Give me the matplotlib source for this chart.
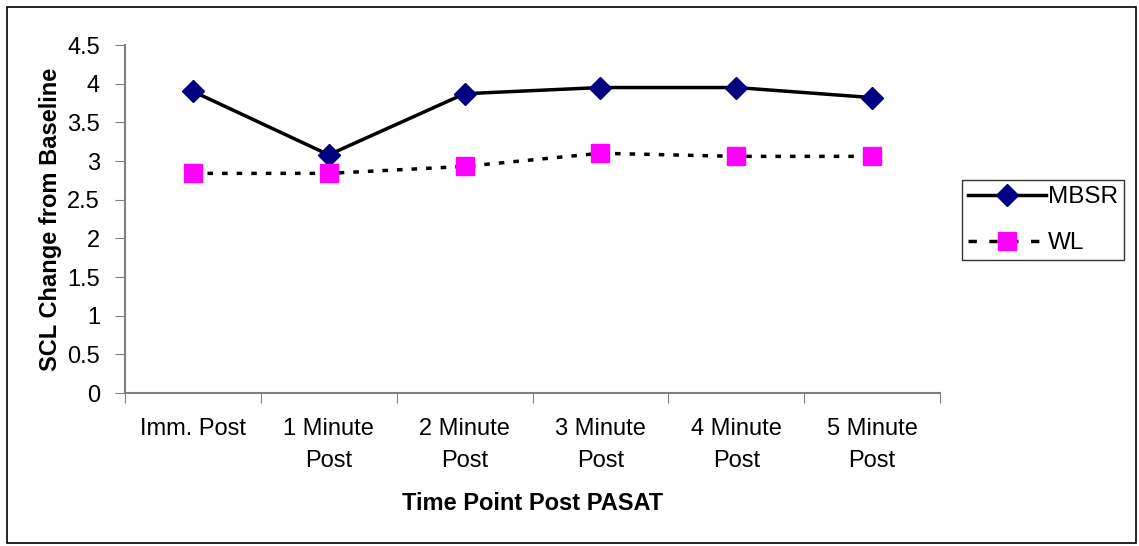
import matplotlib
matplotlib.use("Agg")
import matplotlib.pyplot as plt
from matplotlib.patches import Rectangle
from matplotlib.lines import Line2D

categories = ["Imm. Post", "1 Minute\nPost", "2 Minute\nPost", "3 Minute\nPost", "4 Minute\nPost", "5 Minute\nPost"]
mbsr = [3.90, 3.08, 3.87, 3.95, 3.95, 3.82]
wl = [2.84, 2.84, 2.93, 3.10, 3.06, 3.06]
yticks = [0, 0.5, 1, 1.5, 2, 2.5, 3, 3.5, 4, 4.5]
ytick_labels = ["0", "0.5", "1", "1.5", "2", "2.5", "3", "3.5", "4", "4.5"]

plt.rcParams['font.family'] = ['Liberation Sans', 'DejaVu Sans']

W, H = 1139, 546
fig = plt.figure(figsize=(W / 100, H / 100), dpi=100)
ax = fig.add_axes([125 / W, 1 - 393 / H, (940 - 125) / W, (393 - 45) / H])

x = list(range(len(categories)))
ax.plot(x, mbsr, color="black", lw=2.5, marker="D", markersize=11.5,
        markerfacecolor="#000080", markeredgecolor="#000080", label="MBSR", zorder=3)
ax.plot(x, wl, color="black", lw=2.5, linestyle=(0, (1.6, 2.6)), marker="s", markersize=13,
        markerfacecolor="#FF00FF", markeredgecolor="#FF00FF", label="WL", zorder=3)

ax.set_xlim(-0.5, len(categories) - 0.5)
ax.set_ylim(0, 4.5)
ax.set_yticks(yticks)
ax.set_yticklabels(ytick_labels, fontsize=17)
ax.set_xticks([i - 0.5 for i in range(len(categories) + 1)], minor=False)
ax.set_xticklabels([""] * (len(categories) + 1))
ax.set_xticks(x, minor=True)
ax.set_xticklabels(categories, minor=True, fontsize=17, linespacing=1.6)
ax.tick_params(axis="x", which="minor", length=0, pad=18)
ax.tick_params(axis="x", which="major", length=7, direction="out", color="#808080")
ax.tick_params(axis="y", length=7, direction="out", color="#808080", pad=11)

for s in ["top", "right"]:
    ax.spines[s].set_visible(False)
for s in ["left", "bottom"]:
    ax.spines[s].set_color("#808080")
    ax.spines[s].set_linewidth(1.5)

ax.set_xlabel("Time Point Post PASAT", fontsize=17, fontweight="bold", labelpad=14)
ax.set_ylabel("SCL Change from Baseline", fontsize=17, fontweight="bold", labelpad=4)

handles = [
    Line2D([], [], color="black", lw=2.5, marker="D", markersize=11.5,
           markerfacecolor="#000080", markeredgecolor="#000080"),
    Line2D([], [], color="black", lw=2.5, linestyle=(0, (2.4, 3.6)), marker="s", markersize=13,
           markerfacecolor="#FF00FF", markeredgecolor="#FF00FF"),
]
leg = fig.legend(handles, ["MBSR", "WL"], loc="upper left", bbox_to_anchor=(962 / W, 1 - 180 / H),
                 fontsize=17.5, frameon=True, fancybox=False, edgecolor="black", handlelength=3.2,
                 handletextpad=0.1, borderpad=0.25, labelspacing=1.0, borderaxespad=0)
leg.get_frame().set_linewidth(1.0)

fig.patches.append(Rectangle((7 / W, 1 - 543 / H), (1136 - 7) / W, (543 - 7) / H,
                             transform=fig.transFigure, fill=False, edgecolor="black", lw=1.2))

fig.savefig("out.png", dpi=100)
